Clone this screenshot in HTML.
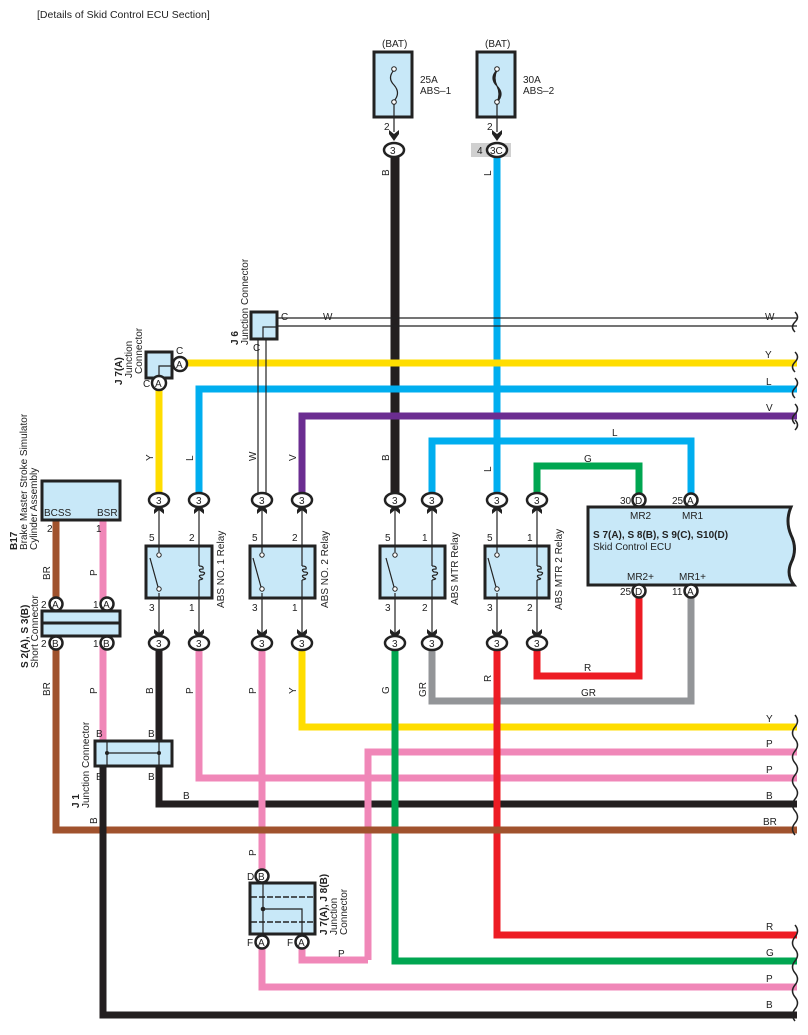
<!DOCTYPE html>
<html><head><meta charset="utf-8"><style>
html,body{margin:0;padding:0;background:#fff}
svg{display:block;font-family:"Liberation Sans",sans-serif}
text{font-size:10px;fill:#222}
.w{fill:none;stroke-width:7;stroke-linejoin:miter}
.box{fill:#c8e8f8;stroke:#222;stroke-width:3}
.thin{stroke:#222;stroke-width:1.2;fill:none}
.cn{fill:#fff;stroke:#222;stroke-width:2.5}
</style></head><body>
<svg width="808" height="1035" viewBox="0 0 808 1035" xmlns="http://www.w3.org/2000/svg">
<defs>
<path id="au" d="M-5,0 L0,-7 L5,0 L5,4 L0,0 L-5,4Z" fill="#222"/>
<path id="ad" d="M-5,0 L0,7 L5,0 L5,-4 L0,0 L-5,-4Z" fill="#222"/>
</defs>
<text x="37" y="18" style="font-size:10.5px">[Details of Skid Control ECU Section]</text>

<g class="w">
<path d="M395,150 V500" stroke="#231f20" stroke-width="9"/>
<path d="M497,150 V500" stroke="#00aeef"/>
<path d="M180,363 H797 M159,383 V500" stroke="#ffdd00"/>
<path d="M199,500 V389 H797" stroke="#00aeef"/>
<path d="M302,500 V416 H797" stroke="#6b2d91"/>
<path d="M432,500 V441 H691 V500" stroke="#00aeef"/>
<path d="M537,500 V466 H639 V500" stroke="#00a651"/>
<path d="M159,643 V804 H797" stroke="#231f20"/>
<path d="M199,643 V778 H797" stroke="#f087b8"/>
<path d="M302,643 V727 H797" stroke="#ffdd00"/>
<path d="M368,960 V752 H797" stroke="#f087b8"/>
<path d="M302,942 V960 H368" stroke="#f087b8"/>
<path d="M262,643 V870 M262,942 V987 H797" stroke="#f087b8"/>
<path d="M395,643 V961 H797" stroke="#00a651"/>
<path d="M432,643 V701 H691 V590" stroke="#939598"/>
<path d="M497,643 V935 H797" stroke="#ed1c24"/>
<path d="M537,643 V676 H639 V590" stroke="#ed1c24"/>
<path d="M56,520 V603 M56,643 V830 H797" stroke="#a0522d"/>
<path d="M103,520 V603 M103,643 V741" stroke="#f087b8"/>
<path d="M103,766 V1015 H797" stroke="#231f20"/>
</g>
<path d="M277,318 H797 M277,326 H797 M258,339 V496 M266,339 V496" stroke="#222" stroke-width="1.2" fill="none"/>

<path d="M795,312 q5,5 0,10 q-5,5 0,10 M795,352 q5,5 0,10 q-5,5 0,10 M795,378 q5,5 0,10 q-5,5 0,10 M795,404 q5,5 0,10 q-5,5 0,10 M795,420 q5,5 0,10 M795,715 q5,6 0,12 q-5,6 0,12 q5,6 0,12 q-5,6 0,12 q5,6 0,12 q-5,6 0,12 q5,6 0,12 q-5,6 0,12 q5,6 0,12 q-5,6 0,12 M795,925 q5,6 0,12 q-5,6 0,12 q5,6 0,12 q-5,6 0,12 q5,6 0,12 q-5,6 0,12 q5,6 0,12 q-5,6 0,12" stroke="#222" stroke-width="1.5" fill="none"/>

<text x="382" y="47">(BAT)</text><text x="485" y="47">(BAT)</text>
<rect class="box" x="374" y="52" width="38" height="65"/>
<rect class="box" x="477" y="52" width="38" height="65"/>
<path class="thin" d="M394,70 q-7,8 0,15 q7,8 0,16"/>
<circle cx="394" cy="69" r="2.3" fill="#fff" stroke="#222"/><circle cx="394" cy="102" r="2.3" fill="#fff" stroke="#222"/>
<path class="thin" d="M497,70 q-8,8 0,16 q8,8 0,16 M497,70 q-4,8 0,16 q4,8 0,16 M497,70 q-6,8 0,16 q6,8 0,16"/>
<circle cx="497" cy="69" r="2.3" fill="#fff" stroke="#222"/><circle cx="497" cy="102" r="2.3" fill="#fff" stroke="#222"/>
<text x="420" y="83">25A</text><text x="420" y="94">ABS–1</text>
<text x="523" y="83">30A</text><text x="523" y="94">ABS–2</text>
<path class="thin" d="M394,104 V132 M497,104 V132"/>
<text x="384" y="130">2</text><text x="487" y="130">2</text>
<use href="#ad" x="394" y="134"/><use href="#ad" x="497" y="134"/>
<rect x="471" y="143" width="40" height="14" fill="#d0d0d0"/>
<ellipse class="cn" cx="394" cy="150" rx="10" ry="7"/><text x="390" y="154">3</text>
<ellipse class="cn" cx="497" cy="150" rx="10" ry="7"/><text x="490" y="154">3C</text>
<text x="477" y="154">4</text>

<rect class="box" x="251" y="312" width="26" height="27"/>
<path class="thin" d="M263,339 V327 H277"/>
<text x="281" y="320">C</text><text x="253" y="351">C</text><text x="323" y="320">W</text><text x="765" y="320">W</text>
<rect class="box" x="146" y="352" width="26" height="26"/>
<path class="thin" d="M159,378 V366 H172"/>
<circle class="cn" cx="180" cy="364" r="7"/><text x="176" y="368">A</text>
<circle class="cn" cx="159" cy="383" r="7"/><text x="155" y="387">A</text>
<text x="176" y="354">C</text><text x="143" y="387">C</text>
<text transform="translate(238,345) rotate(-90)" style="font-weight:bold">J 6</text>
<text transform="translate(248,345) rotate(-90)">Junction Connector</text>
<text transform="translate(122,385) rotate(-90)" style="font-weight:bold">J 7(A)</text>
<text transform="translate(132,378) rotate(-90)">Junction</text>
<text transform="translate(142,374) rotate(-90)">Connector</text>

<text x="765" y="358">Y</text><text x="766" y="385">L</text><text x="766" y="411">V</text>
<text x="612" y="436">L</text><text x="584" y="462">G</text>
<text x="766" y="722">Y</text><text x="766" y="747">P</text><text x="766" y="773">P</text>
<text x="766" y="799">B</text><text x="763" y="825">BR</text>
<text x="766" y="930">R</text><text x="766" y="956">G</text><text x="766" y="982">P</text><text x="766" y="1008">B</text>
<text x="584" y="671">R</text><text x="581" y="696">GR</text>
<text x="183" y="799">B</text><text x="338" y="957">P</text>
<g>
<text transform="translate(153,461) rotate(-90)">Y</text>
<text transform="translate(193,461) rotate(-90)">L</text>
<text transform="translate(256,461) rotate(-90)">W</text>
<text transform="translate(296,461) rotate(-90)">V</text>
<text transform="translate(389,176) rotate(-90)">B</text>
<text transform="translate(491,176) rotate(-90)">L</text>
<text transform="translate(389,461) rotate(-90)">B</text>
<text transform="translate(491,472) rotate(-90)">L</text>
<text transform="translate(153,694) rotate(-90)">B</text>
<text transform="translate(193,694) rotate(-90)">P</text>
<text transform="translate(256,694) rotate(-90)">P</text>
<text transform="translate(296,694) rotate(-90)">Y</text>
<text transform="translate(389,694) rotate(-90)">G</text>
<text transform="translate(426,697) rotate(-90)">GR</text>
<text transform="translate(491,682) rotate(-90)">R</text>
<text transform="translate(50,580) rotate(-90)">BR</text>
<text transform="translate(97,576) rotate(-90)">P</text>
<text transform="translate(50,696) rotate(-90)">BR</text>
<text transform="translate(97,694) rotate(-90)">P</text>
<text transform="translate(97,824) rotate(-90)">B</text>
<text transform="translate(256,856) rotate(-90)">P</text>
</g>

<rect class="box" x="146" y="546" width="66" height="52"/>
<rect class="box" x="250" y="546" width="65" height="52"/>
<rect class="box" x="380" y="546" width="65" height="52"/>
<rect class="box" x="485" y="546" width="64" height="52"/>
<path class="thin" d="M159,510 V552 M159,593 V633 M199,510 V566 M199,580 V633 M150,558 L158,587
M262,510 V552 M262,593 V633 M302,510 V566 M302,580 V633 M253,558 L261,587
M395,510 V552 M395,593 V633 M432,510 V566 M432,580 V633 M386,558 L394,587
M497,510 V552 M497,593 V633 M537,510 V566 M537,580 V633 M488,558 L496,587"/>
<path class="thin" d="M199,566 q5,0 4,3 q-6,0 -2,3 q6,0 2,3 q-6,0 -2,3 q4,1 -2,2 M302,566 q5,0 4,3 q-6,0 -2,3 q6,0 2,3 q-6,0 -2,3 q4,1 -2,2 M432,566 q5,0 4,3 q-6,0 -2,3 q6,0 2,3 q-6,0 -2,3 q4,1 -2,2 M537,566 q5,0 4,3 q-6,0 -2,3 q6,0 2,3 q-6,0 -2,3 q4,1 -2,2"/>
<g fill="#fff" stroke="#222" stroke-width="1">
<circle cx="159" cy="555" r="2.2"/><circle cx="159" cy="589" r="2.2"/>
<circle cx="262" cy="555" r="2.2"/><circle cx="262" cy="589" r="2.2"/>
<circle cx="395" cy="555" r="2.2"/><circle cx="395" cy="589" r="2.2"/>
<circle cx="497" cy="555" r="2.2"/><circle cx="497" cy="589" r="2.2"/>
</g>
<text x="149" y="541">5</text><text x="189" y="541">2</text><text x="149" y="611">3</text><text x="189" y="611">1</text>
<text x="252" y="541">5</text><text x="292" y="541">2</text><text x="252" y="611">3</text><text x="292" y="611">1</text>
<text x="385" y="541">5</text><text x="422" y="541">1</text><text x="385" y="611">3</text><text x="422" y="611">2</text>
<text x="487" y="541">5</text><text x="527" y="541">1</text><text x="487" y="611">3</text><text x="527" y="611">2</text>
<text transform="translate(224,608) rotate(-90)">ABS NO. 1 Relay</text>
<text transform="translate(328,608) rotate(-90)">ABS NO. 2 Relay</text>
<text transform="translate(458,605) rotate(-90)">ABS MTR Relay</text>
<text transform="translate(562,610) rotate(-90)">ABS MTR 2 Relay</text>

<g>
<use href="#au" x="159" y="510"/><use href="#au" x="199" y="510"/><use href="#au" x="262" y="510"/><use href="#au" x="302" y="510"/>
<use href="#au" x="395" y="510"/><use href="#au" x="432" y="510"/><use href="#au" x="497" y="510"/><use href="#au" x="537" y="510"/>
<use href="#ad" x="159" y="633"/><use href="#ad" x="199" y="633"/><use href="#ad" x="262" y="633"/><use href="#ad" x="302" y="633"/>
<use href="#ad" x="395" y="633"/><use href="#ad" x="432" y="633"/><use href="#ad" x="497" y="633"/><use href="#ad" x="537" y="633"/>
</g>
<g>
<ellipse class="cn" cx="159" cy="500" rx="10" ry="7"/><ellipse class="cn" cx="199" cy="500" rx="10" ry="7"/>
<ellipse class="cn" cx="262" cy="500" rx="10" ry="7"/><ellipse class="cn" cx="302" cy="500" rx="10" ry="7"/>
<ellipse class="cn" cx="395" cy="500" rx="10" ry="7"/><ellipse class="cn" cx="432" cy="500" rx="10" ry="7"/>
<ellipse class="cn" cx="497" cy="500" rx="10" ry="7"/><ellipse class="cn" cx="537" cy="500" rx="10" ry="7"/>
<ellipse class="cn" cx="159" cy="643" rx="10" ry="7"/><ellipse class="cn" cx="199" cy="643" rx="10" ry="7"/>
<ellipse class="cn" cx="262" cy="643" rx="10" ry="7"/><ellipse class="cn" cx="302" cy="643" rx="10" ry="7"/>
<ellipse class="cn" cx="395" cy="643" rx="10" ry="7"/><ellipse class="cn" cx="432" cy="643" rx="10" ry="7"/>
<ellipse class="cn" cx="497" cy="643" rx="10" ry="7"/><ellipse class="cn" cx="537" cy="643" rx="10" ry="7"/>
</g>
<text x="156" y="504">3</text><text x="196" y="504">3</text><text x="259" y="504">3</text><text x="299" y="504">3</text>
<text x="392" y="504">3</text><text x="429" y="504">3</text><text x="494" y="504">3</text><text x="534" y="504">3</text>
<text x="156" y="647">3</text><text x="196" y="647">3</text><text x="259" y="647">3</text><text x="299" y="647">3</text>
<text x="392" y="647">3</text><text x="429" y="647">3</text><text x="494" y="647">3</text><text x="534" y="647">3</text>

<path d="M588,507 H791 q-6,14 0,28 q7,14 0,28 q-5,12 3,22 H588 Z" fill="#c8e8f8" stroke="#222" stroke-width="3"/>
<circle class="cn" cx="639" cy="500" r="6.5"/><text x="635" y="504">D</text>
<circle class="cn" cx="691" cy="500" r="6.5"/><text x="687" y="504">A</text>
<circle class="cn" cx="639" cy="591" r="6.5"/><text x="635" y="595">D</text>
<circle class="cn" cx="691" cy="591" r="6.5"/><text x="687" y="595">A</text>
<text x="620" y="504">30</text><text x="672" y="504">25</text><text x="620" y="595">25</text><text x="672" y="595">11</text>
<text x="630" y="519">MR2</text><text x="682" y="519">MR1</text>
<text x="593" y="538" style="font-weight:bold">S 7(A), S 8(B), S 9(C), S10(D)</text>
<text x="593" y="550">Skid Control ECU</text>
<text x="627" y="580">MR2+</text><text x="679" y="580">MR1+</text>

<rect class="box" x="42" y="481" width="78" height="39"/>
<text x="44" y="516">BCSS</text><text x="97" y="516">BSR</text>
<text x="47" y="532">2</text><text x="96" y="532">1</text>
<text transform="translate(17,550) rotate(-90)" style="font-weight:bold">B17</text>
<text transform="translate(27,550) rotate(-90)">Brake Master Stroke Simulator</text>
<text transform="translate(37,550) rotate(-90)">Cylinder Assembly</text>
<rect class="box" x="42" y="611" width="78" height="12"/>
<rect class="box" x="42" y="623" width="78" height="13"/>
<circle class="cn" cx="56" cy="604" r="6.5"/><text x="52" y="608">A</text>
<circle class="cn" cx="107" cy="604" r="6.5"/><text x="103" y="608">A</text>
<circle class="cn" cx="56" cy="643" r="6.5"/><text x="52" y="647">B</text>
<circle class="cn" cx="107" cy="643" r="6.5"/><text x="103" y="647">B</text>
<text x="41" y="608">2</text><text x="93" y="608">1</text><text x="41" y="647">2</text><text x="93" y="647">1</text>
<text transform="translate(28,668) rotate(-90)" style="font-weight:bold">S 2(A), S 3(B)</text>
<text transform="translate(38,668) rotate(-90)">Short Connector</text>
<rect class="box" x="95" y="741" width="77" height="25"/>
<path class="thin" d="M107,741 V766 M159,741 V766 M107,753 H159"/>
<circle cx="107" cy="753" r="2" fill="#222"/><circle cx="159" cy="753" r="2" fill="#222"/>
<text x="96" y="737">B</text><text x="148" y="737">B</text><text x="96" y="780">B</text><text x="148" y="780">B</text>
<text transform="translate(79,808) rotate(-90)" style="font-weight:bold">J 1</text>
<text transform="translate(89,808) rotate(-90)">Junction Connector</text>
<rect class="box" x="250" y="883" width="65" height="51"/>
<path d="M251,897 H314 M251,922 H314" stroke="#222" stroke-width="1.5" stroke-dasharray="6,2" fill="none"/>
<path class="thin" d="M263,883 V934 M263,909 H302 V934"/>
<circle cx="263" cy="909" r="2.3" fill="#222"/>
<circle class="cn" cx="262" cy="876" r="6.5"/><text x="258" y="880">B</text>
<circle class="cn" cx="262" cy="942" r="6.5"/><text x="258" y="946">A</text>
<circle class="cn" cx="302" cy="942" r="6.5"/><text x="298" y="946">A</text>
<text x="247" y="880">D</text><text x="247" y="946">F</text><text x="287" y="946">F</text>
<text transform="translate(327,935) rotate(-90)" style="font-weight:bold">J 7(A), J 8(B)</text>
<text transform="translate(337,935) rotate(-90)">Junction</text>
<text transform="translate(347,935) rotate(-90)">Connector</text>
</svg>
</body></html>
